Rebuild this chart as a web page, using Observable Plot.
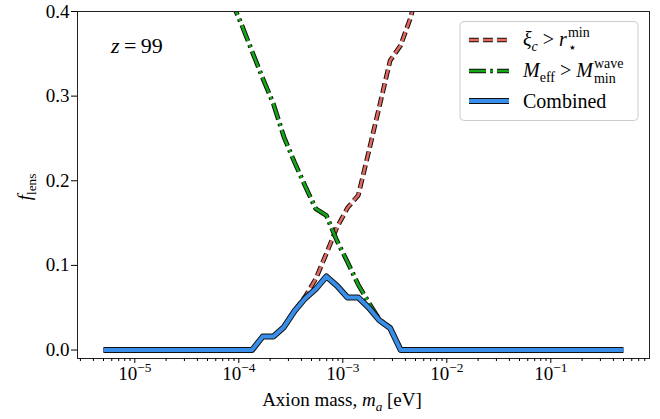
<!DOCTYPE html>
<html><head><meta charset="utf-8">
<script src="https://cdn.jsdelivr.net/npm/d3@7"></script>
<script src="https://cdn.jsdelivr.net/npm/@observablehq/plot@0.6"></script>
<style>
html,body{margin:0;padding:0;background:#fff;}
#chart{width:660px;height:419px;}
</style></head><body><div id="chart"></div>
<script>
// Axion mass grid [eV]
const mass = [5.00e-6, 6.32e-6, 8.00e-6, 1.01e-5, 1.28e-5, 1.62e-5, 2.05e-5, 2.59e-5, 3.28e-5, 4.14e-5,
  5.24e-5, 6.63e-5, 8.38e-5, 1.06e-4, 1.34e-4, 1.70e-4, 2.15e-4, 2.71e-4, 3.43e-4, 4.34e-4,
  5.49e-4, 6.95e-4, 8.79e-4, 1.11e-3, 1.41e-3, 1.78e-3, 2.25e-3, 2.85e-3, 3.60e-3, 4.55e-3,
  5.76e-3, 7.28e-3, 9.21e-3, 1.17e-2, 1.47e-2, 1.86e-2, 2.36e-2, 2.98e-2, 3.77e-2, 4.77e-2,
  6.04e-2, 7.63e-2, 9.66e-2, 1.22e-1, 1.54e-1, 1.95e-1, 2.47e-1, 3.13e-1, 3.95e-1, 5.00e-1];

// Lensing fraction, criterion xi_c > r_star^min
const fXi = [0, 0, 0, 0, 0, 0, 0, 0, 0, 0,
  0, 0, 0, 0, 0, 0.016, 0.016, 0.027, 0.046, 0.063,
  0.084, 0.114, 0.145, 0.168, 0.183, 0.235, 0.288, 0.342, 0.360, 0.395,
  0.46, null, null, null, null, null, null, null, null, null,
  null, null, null, null, null, null, null, null, null, null];

// Lensing fraction, criterion M_eff > M_min^wave
const fWave = [null, null, null, null, null, null, null, null, null, null,
  null, 0.445, 0.414, 0.385, 0.353, 0.321, 0.291, 0.252, 0.222, 0.194,
  0.167, 0.159, 0.129, 0.104, 0.077, 0.056, 0.036, 0.026, 0, 0,
  0, 0, 0, 0, 0, 0, 0, 0, 0, 0,
  0, 0, 0, 0, 0, 0, 0, 0, 0, 0];

// Lensing fraction, both criteria combined
const fComb = [0, 0, 0, 0, 0, 0, 0, 0, 0, 0,
  0, 0, 0, 0, 0, 0.016, 0.016, 0.027, 0.046, 0.061,
  0.072, 0.087, 0.076, 0.062, 0.062, 0.050, 0.035, 0.026, 0, 0,
  0, 0, 0, 0, 0, 0, 0, 0, 0, 0,
  0, 0, 0, 0, 0, 0, 0, 0, 0, 0];

const xMajorTicks = [1e-5, 1e-4, 1e-3, 1e-2, 1e-1];
const yTicks = [0, 0.1, 0.2, 0.3, 0.4];
const yDomain = [-0.01, 0.4];

const colors = {xi: "#e4685d", wave: "#14a814", comb: "#388ee8"};
const dashes = {xi: "9.8,4.2", wave: "17,4.2,2.65,4.2", comb: null};

const rows = mass.map((m, i) => ({m, xi: fXi[i], wave: fWave[i], comb: fComb[i]}));

// log axis with 5% padding on each side
const lx = d3.extent(mass, Math.log10);
const pad = 0.05 * (lx[1] - lx[0]);
const xDomain = [10 ** (lx[0] - pad), 10 ** (lx[1] + pad)];
const xMinorTicks = [];
for (let e = -6; e <= 0; e++) for (let k = 2; k <= 9; k++) {
  const v = k * 10 ** e;
  if (v > xDomain[0] && v < xDomain[1]) xMinorTicks.push(v);
}

const FONT = "'Liberation Serif', 'DejaVu Serif', serif";
const TICK = 19;

// an outlined line: dark casing under a coloured core, same dash pattern
function outlined(key, width) {
  const common = {x: "m", y: key, clip: true, strokeDasharray: dashes[key], strokeLinecap: "butt", strokeLinejoin: "round"};
  return [
    Plot.line(rows, {...common, stroke: "#111", strokeWidth: width + 2}),
    Plot.line(rows, {...common, stroke: colors[key], strokeWidth: width})
  ];
}

const chart = Plot.plot({
  width: 660, height: 419,
  marginLeft: 77, marginRight: 11, marginTop: 11, marginBottom: 61,
  style: {fontFamily: FONT, fontSize: TICK + "px", color: "black", background: "white"},
  x: {type: "log", domain: xDomain, label: null},
  y: {domain: yDomain, label: null},
  marks: [
    ...outlined("xi", 2.65),
    ...outlined("wave", 2.65),
    ...outlined("comb", 4),
    Plot.frame({stroke: "#222", strokeWidth: 1}),
    Plot.axisY(yTicks, {tickSize: 6, tickPadding: 2, tickFormat: d3.format(".1f"), label: null}),
    Plot.axisX(xMinorTicks, {tickSize: 3, tickFormat: () => "", label: null}),
    Plot.axisX(xMajorTicks, {tickSize: 5, tickPadding: 3, tickFormat: d => "10^" + Math.round(Math.log10(d)), label: null})
  ]
});
document.getElementById("chart").appendChild(chart);

const svg = d3.select(chart);

// mixed text with italic parts, sub- and superscripts
function rich(text, parts, size) {
  let cur = 0;
  for (const p of parts) {
    const fs = p.s ? size * 0.7 : size;
    const target = p.s === "sup" ? -0.42 * size : p.s === "sub" ? 0.25 * size : 0;
    text.append("tspan")
      .attr("dy", target - cur)
      .attr("font-size", fs)
      .attr("font-style", p.i ? "italic" : null)
      .text(p.t);
    cur = target;
  }
  return text;
}

// powers of ten on the mass axis
svg.selectAll("text").each(function () {
  const m = /^10\^(-?\d+)$/.exec(this.textContent);
  if (!m) return;
  const t = d3.select(this).text("");
  rich(t, [{t: "10"}, {t: m[1].replace("-", "\u2212"), s: "sup"}], TICK);
});

// axis titles
rich(svg.append("text").attr("x", 342).attr("y", 406).attr("text-anchor", "middle")
  .attr("font-family", FONT).attr("font-size", TICK).attr("fill", "black"),
  [{t: "Axion mass, "}, {t: "m", i: true}, {t: "a", i: true, s: "sub"}, {t: " [eV]"}], TICK);

rich(svg.append("text").attr("transform", "translate(31,187) rotate(-90)").attr("text-anchor", "middle")
  .attr("font-family", FONT).attr("font-size", TICK).attr("fill", "black"),
  [{t: "f", i: true}, {t: "lens", s: "sub"}], TICK);

// redshift annotation
rich(svg.append("text").attr("x", 111).attr("y", 53).attr("text-anchor", "start")
  .attr("font-family", FONT).attr("font-size", 22).attr("fill", "black"),
  [{t: "z", i: true}, {t: "\u2009=\u200999"}], 22);

// legend
const LG = 20;
const lg = svg.append("g").attr("font-family", FONT).attr("font-size", LG)
  .attr("fill", "black").attr("text-anchor", "start");
lg.append("rect").attr("x", 460).attr("y", 21.5).attr("width", 178).attr("height", 99).attr("rx", 4)
  .attr("fill", "white").attr("fill-opacity", 0.8).attr("stroke", "#cccccc").attr("stroke-width", 1);

function sample(key, y, width) {
  for (const [stroke, w] of [["#111", width + 2], [colors[key], width]]) {
    lg.append("line").attr("x1", 469).attr("x2", 509).attr("y1", y).attr("y2", y)
      .attr("stroke", stroke).attr("stroke-width", w)
      .attr("stroke-dasharray", dashes[key]).attr("stroke-linecap", "butt");
  }
}
// stacked superscript/subscript after a text element
function stacked(text, y, sup, sub) {
  const x = +text.attr("x") + text.node().getComputedTextLength() + 1;
  lg.append("text").attr("x", x).attr("y", y - 9).attr("font-size", LG * 0.7).text(sup);
  lg.append("text").attr("x", x).attr("y", y + 6).attr("font-size", LG * 0.7).text(sub);
}

sample("xi", 40, 2.65);
const t1 = rich(lg.append("text").attr("x", 523).attr("y", 46),
  [{t: "\u03be", i: true}, {t: "c", i: true, s: "sub"}, {t: " > "}, {t: "r", i: true}], LG);
stacked(t1, 46, "min", "\u22c6");

sample("wave", 71, 2.65);
const t2 = rich(lg.append("text").attr("x", 523).attr("y", 77),
  [{t: "M", i: true}, {t: "eff", s: "sub"}, {t: " > "}, {t: "M", i: true}], LG);
stacked(t2, 77, "wave", "min");

sample("comb", 101, 4);
lg.append("text").attr("x", 523).attr("y", 108).text("Combined");
</script></body></html>
